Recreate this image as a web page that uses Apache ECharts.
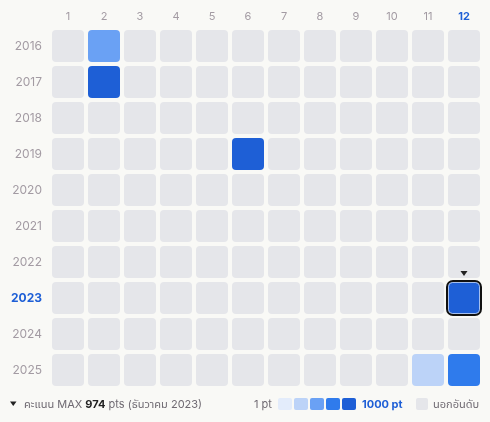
<!DOCTYPE html>
<html><head><meta charset="utf-8">
<script src="https://cdn.jsdelivr.net/npm/echarts@6/dist/echarts.min.js"></script>
<style>html,body{margin:0;padding:0;background:#f9f9f6;}#c{width:490px;height:422px;}</style>
</head><body><div id="c"></div>
<script>
const years = ['2016','2017','2018','2019','2020','2021','2022','2023','2024','2025'];
const months = ['1','2','3','4','5','6','7','8','9','10','11','12'];
// ranked entries: [year, month, points]
const rankedYears  = ['2016','2017','2019','2023','2025','2025'];
const rankedMonths = ['2','2','6','12','11','12'];
const rankedPoints = [520, 905, 880, 974, 310, 720];
const levelColors = ['#e3ecfb','#bcd3f8','#6aa1f4','#2f7bec','#1e5fd6'];
const levelBreaks = [200, 400, 600, 800];
const emptyColor = '#e5e6ea';
const FONT = 'Inter, "Noto Sans", "Noto Sans Thai", sans-serif';

function colorOf(v){
  if (v == null || isNaN(v)) return emptyColor;
  let i = 0; while (i < levelBreaks.length && v >= levelBreaks[i]) i++;
  return levelColors[i];
}
let maxIdx = 0;
rankedPoints.forEach((p,i)=>{ if (p > rankedPoints[maxIdx]) maxIdx = i; });
const maxYear = rankedYears[maxIdx], maxMonth = rankedMonths[maxIdx];

const data = [];
years.forEach((y, yi) => months.forEach((m, mi) => {
  let v = null;
  for (let k = 0; k < rankedYears.length; k++) if (rankedYears[k] === y && rankedMonths[k] === m) v = rankedPoints[k];
  data.push([mi, yi, v == null ? NaN : v, (y === maxYear && m === maxMonth) ? 1 : 0]);
}));

const chart = echarts.init(document.getElementById('c'), null, {renderer:'canvas'});
chart.setOption({
  backgroundColor: '#f9f9f6',
  animation: false,
  grid: {left: 50, right: 8, top: 28, bottom: 34},
  xAxis: {type:'category', data: months, position:'top',
    axisLine:{show:false}, axisTick:{show:false}, splitLine:{show:false},
    axisLabel:{interval:0, margin:6, fontFamily:FONT, fontSize:11, color:'#a39ba3',
      formatter: v => v === maxMonth ? '{b|'+v+'}' : v,
      rich:{b:{fontWeight:'bold', color:'#1e5fd6', fontFamily:FONT, fontSize:11}}}},
  yAxis: {type:'category', data: years, inverse:true,
    axisLine:{show:false}, axisTick:{show:false}, splitLine:{show:false},
    axisLabel:{interval:0, margin:8, fontFamily:FONT, fontSize:12, color:'#a39ba3',
      formatter: v => v === maxYear ? '{b|'+v+'}' : v,
      rich:{b:{fontWeight:'bold', color:'#1e5fd6', fontFamily:FONT, fontSize:12}}}},
  series: [{
    type:'custom', coordinateSystem:'cartesian2d', data: data,
    encode:{x:0, y:1},
    renderItem: (params, api) => {
      const c = api.coord([api.value(0), api.value(1)]);
      const s = api.size([1,1]);
      const w = s[0]-4, h = s[1]-4;
      const x = c[0]-w/2, y = c[1]-h/2;
      const v = api.value(2);
      const children = [{type:'rect', shape:{x, y, width:w, height:h, r:4}, style:{fill: colorOf(v)}}];
      if (api.value(3) === 1) {
        children.push({type:'rect', shape:{x:x-1, y:y-1, width:w+2, height:h+2, r:6}, style:{fill:'none', stroke:'#111', lineWidth:2}});
        children.push({type:'rect', shape:{x:x+0.5, y:y+0.5, width:w-1, height:h-1, r:4}, style:{fill:'none', stroke:'rgba(255,255,255,0.6)', lineWidth:1}});
        children.push({type:'polygon', shape:{points:[[c[0]-3.5, y-11],[c[0]+3.5, y-11],[c[0], y-6]]}, style:{fill:'#222'}});
      }
      return {type:'group', children};
    }
  }],
  graphic: [
    {type:'polygon', shape:{points:[[10,401.5],[16.5,401.5],[13.25,406]]}, style:{fill:'#222'}},
    {type:'text', left:24, top:399, style:{
      text:'คะแนน MAX {b|'+rankedPoints[maxIdx]+'} pts (ธันวาคม '+maxYear+')',
      font:'11px '+FONT, fill:'#6f6a72',
      rich:{b:{fontWeight:'bold', fill:'#222', fontSize:11, fontFamily:FONT}}}},
    {type:'text', left:254, top:399, style:{text:'1 pt', font:'11px '+FONT, fill:'#6f6a72'}},
    ...levelColors.map((col,i)=>({type:'rect', shape:{x:278+i*16, y:398, width:14, height:12, r:2}, style:{fill:col}})),
    {type:'text', left:362, top:399, style:{text:'1000 pt', font:'bold 11px '+FONT, fill:'#1e5fd6'}},
    {type:'rect', shape:{x:416, y:398, width:12, height:12, r:2}, style:{fill:emptyColor}},
    {type:'text', left:433, top:399, style:{text:'นอกอันดับ', font:'11px '+FONT, fill:'#6f6a72'}}
  ]
});
</script></body></html>
